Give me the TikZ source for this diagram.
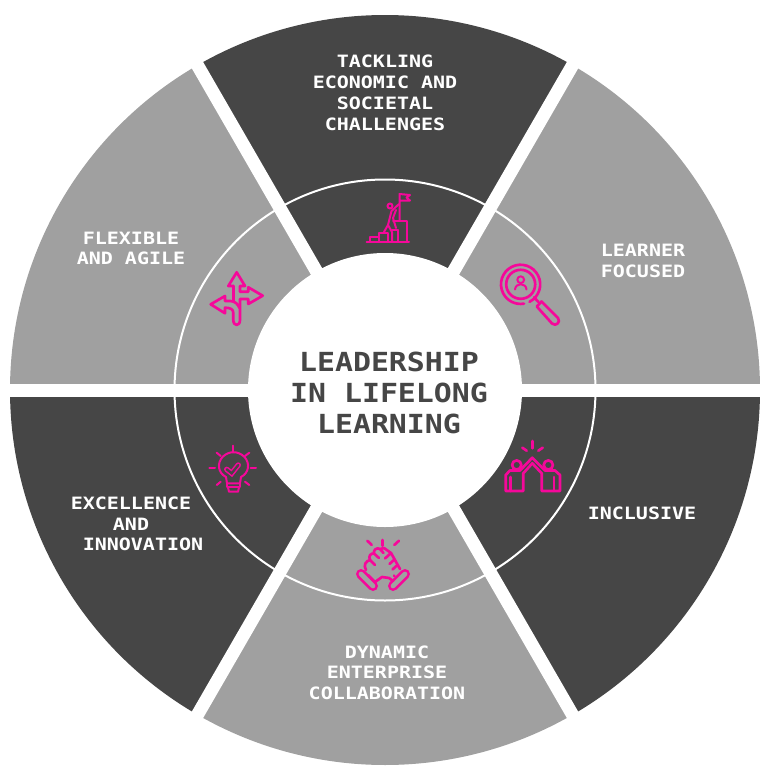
\documentclass[tikz,border=0pt]{standalone}
\usepackage{fontspec}
\newfontfamily\blockfont{DejaVu Sans Mono}
\definecolor{sectordark}{HTML}{464646}
\definecolor{sectorgrey}{HTML}{A0A0A0}
\definecolor{iconpink}{HTML}{F5089A}
\tikzset{
  smalllabel/.style={text=white,anchor=base,inner sep=0pt,yscale=0.85,transform shape,font=\blockfont\bfseries\fontsize{15}{15}\selectfont},
  titlelabel/.style={text=sectordark,anchor=base,inner sep=0pt,yscale=0.88,transform shape,font=\blockfont\bfseries\fontsize{22.4}{22.4}\selectfont},
  gapline/.style={white,line width=9.75pt},
  ringline/.style={white,line width=1.5pt},
  icon/.style={iconpink,line width=2pt,line join=round,line cap=round},
  thinicon/.style={iconpink,line width=1.5pt,line join=round,line cap=round}
}

\begin{document}
\begin{tikzpicture}[x=0.75pt,y=-0.75pt]
\useasboundingbox (0,0) rectangle (773,774);

% sectors:
\fill[sectordark] (385,390) -- ++(-120:375) arc[start angle=-120,end angle=-60,radius=375] -- cycle;
\fill[sectorgrey] (385,390) -- ++(-60:375) arc[start angle=-60,end angle=0,radius=375] -- cycle;
\fill[sectordark] (385,390) -- ++(0:375) arc[start angle=0,end angle=60,radius=375] -- cycle;
\fill[sectorgrey] (385,390) -- ++(60:375) arc[start angle=60,end angle=120,radius=375] -- cycle;
\fill[sectordark] (385,390) -- ++(120:375) arc[start angle=120,end angle=180,radius=375] -- cycle;
\fill[sectorgrey] (385,390) -- ++(180:375) arc[start angle=180,end angle=240,radius=375] -- cycle;

% ring, gaps and middle:
\draw[ringline] (385,390) circle[radius=210.5];
\draw[gapline] (0,390) -- (773,390);
\draw[gapline] (185,43.6) -- (585,736.4);
\draw[gapline] (585,43.6) -- (185,736.4);
\fill[white] (385,390) circle[radius=137];

% flag on steps:
\draw[thinicon] (366.5,242) -- (409,242);
\draw[thinicon] (369.5,242) -- (369.5,236.5) -- (378.5,236.5);
\draw[thinicon] (378.5,242) -- (378.5,232.5) -- (387.5,232.5) -- (387.5,242);
\draw[thinicon] (392,230) -- (397.5,230) -- (397.5,242);
\draw[thinicon] (393,220.5) -- (406.5,220.5) -- (406.5,242);
\draw[thinicon] (397.5,230) -- (397.5,236);
\draw[thinicon] (399.5,220.5) -- (399.5,194) -- (410,195) -- (406.5,197.5) -- (410,200.5) -- (399.5,200.5);
\draw[thinicon] (390,206) circle[radius=2.5];
\draw[thinicon] (399,204) -- (391.5,211) -- (388,225) -- (384,232);
\draw[thinicon] (396,210) -- (393,218) -- (396,228);
\draw[thinicon] (388,225) -- (392,232) -- (392,242);

% magnifying glass:
\draw[icon] (529.5,301.8) arc[start angle=63,end angle=-280,radius=19.6];
\draw[icon] (520.7,284.3) circle[radius=14.5];
\draw[thinicon] (520.7,279.7) circle[radius=3.4];
\draw[thinicon] (515,289.5) .. controls (515.5,282.5) and (526,282.5) .. (526.5,289.5);
\draw[icon] (534,297.3) -- (538.5,302);
\draw[icon] (536.8,306.5) -- (541.5,301.5) -- (558,318) .. controls (561,322) and (556,327) .. (552,323.5) -- cycle;

% arrows:
\draw[icon] (233.3,286) -- (228.3,286) -- (236.7,272.3) -- (245,286) -- (240,286) -- (240,291.7) -- (248.3,291.7) -- (248.3,287.3) -- (262.7,295.7) -- (248.3,304) -- (248.3,299) -- (240,299) -- (240,320) .. controls (240,326.5) and (233.3,326.5) .. (233.3,320) -- (233.3,313) .. controls (233.3,309) and (230,307.7) .. (225,307.7) -- (225,313.3) -- (210.7,304.3) -- (225,296) -- (225,301) -- (230,301) .. controls (235,301) and (238,304) .. (240,309);
\draw[icon] (233.3,286) -- (233.3,301);

% bulb:
\draw[thinicon] (226,477) .. controls (218,473) and (216.5,463) .. (223,456.5) .. controls (229,450.8) and (238,450.8) .. (244,456.5) .. controls (250.5,463) and (249,473) .. (241,477) -- (240,483.3) -- (227,483.3) -- cycle;
\draw[thinicon] (227,483.3) -- (227,487.3) -- (240,487.3) -- (240,483.3);
\draw[thinicon] (228,487.3) -- (229,491.7) -- (238,491.7) -- (239,487.3);
\draw[iconpink,line width=4pt,line cap=round,line join=miter] (226.7,469.3) -- (231.7,473.3) -- (238.3,465);
\draw[sectordark,line width=1.7pt,line cap=round,line join=miter] (226.7,469.3) -- (231.7,473.3) -- (238.3,465);
\draw[thinicon] (232.7,445.7) -- (232.7,451.7);
\draw[thinicon] (216.7,452.7) -- (220.7,456);
\draw[thinicon] (249.3,452.7) -- (245,456);
\draw[thinicon] (209.3,468.3) -- (215,468.3);
\draw[thinicon] (250.7,468.3) -- (256,468.3);
\draw[thinicon] (216.7,485) -- (220.7,481.7);
\draw[thinicon] (249.3,485) -- (245,481.7);

% clasped hands:
\draw[icon] (367.3,540.7) -- (371.7,545);
\draw[icon] (382.7,540) -- (382.7,545.7);
\draw[icon] (399,540.7) -- (394.3,545);
\draw[iconpink,line width=7.5pt,line cap=round] (361,574) -- (373,586);
\draw[sectorgrey,line width=3.5pt,line cap=round] (361,574) -- (373,586);
\draw[iconpink,line width=7.5pt,line cap=round] (405,574) -- (393,586);
\draw[sectorgrey,line width=3.5pt,line cap=round] (405,574) -- (393,586);
\draw[icon] (366,570) .. controls (363,565) and (366,561) .. (370,560) .. controls (368,556) and (371,553) .. (374,553.5) .. controls (373,550) and (377,547) .. (380,549) -- (384,548) -- (391,553) -- (400,569);
\draw[icon] (370,560) -- (375,565);
\draw[icon] (374,553.5) -- (379,558);
\draw[icon] (380,549) -- (383.5,553);
\draw[icon] (391,553) -- (385,558.5);
\draw[icon] (394.5,559.5) -- (389.5,564);
\draw[icon] (397.5,565) -- (392.5,569.5);
\draw[icon] (368,575) -- (375,582) -- (382,577) -- (389,578) -- (393,581);
\draw[icon] (394,575.5) -- (394.5,576);

% high five:
\draw[icon] (532.3,441) -- (532.3,448.3);
\draw[icon] (522.3,447.7) -- (526.7,450.7);
\draw[icon] (542.7,447.7) -- (538.3,450.7);
\draw[icon] (516.7,465) circle[radius=4.6];
\draw[icon] (548.3,465) circle[radius=4.6];
\draw[icon] (505.7,491) -- (505.7,475) -- (510,470.5) -- (520,470.5) -- (532.3,457.7) -- (545,470.5) -- (555,470.5) -- (560,475) -- (560,491) -- (541.7,491) -- (541.7,473.3) -- (532.3,463.3) -- (523.3,473.3) -- (523.3,491) -- cycle;
\draw[icon] (510.7,477) -- (510.7,491);
\draw[icon] (554,477) -- (554,491);

% labels:
\path (385,67.3) node[smalllabel] (tackling) {TACKLING};
\path (385,88.3) node[smalllabel] (economic) {ECONOMIC AND};
\path (385,109.3) node[smalllabel] (societal) {SOCIETAL};
\path (385,130) node[smalllabel] (challenges) {CHALLENGES};
\path (643,256.5) node[smalllabel] (learner) {LEARNER};
\path (643,277.5) node[smalllabel] (focused) {FOCUSED};
\path (642,519.5) node[smalllabel] (inclusive) {INCLUSIVE};
\path (387,658.5) node[smalllabel] (dynamic) {DYNAMIC};
\path (387,678.5) node[smalllabel] (enterprise) {ENTERPRISE};
\path (387,699.5) node[smalllabel] (collaboration) {COLLABORATION};
\path (131,509.5) node[smalllabel] (excellence) {EXCELLENCE};
\path (131,530.5) node[smalllabel] (and) {AND};
\path (143,550.5) node[smalllabel] (innovation) {INNOVATION};
\path (131,244.5) node[smalllabel] (flexible) {FLEXIBLE};
\path (131,264.5) node[smalllabel] (agile) {AND AGILE};
\path (389,371) node[titlelabel] (leadership) {LEADERSHIP};
\path (389,402) node[titlelabel] (lifelong) {IN LIFELONG};
\path (389,433) node[titlelabel] (learning) {LEARNING};

\end{tikzpicture}
\end{document}
